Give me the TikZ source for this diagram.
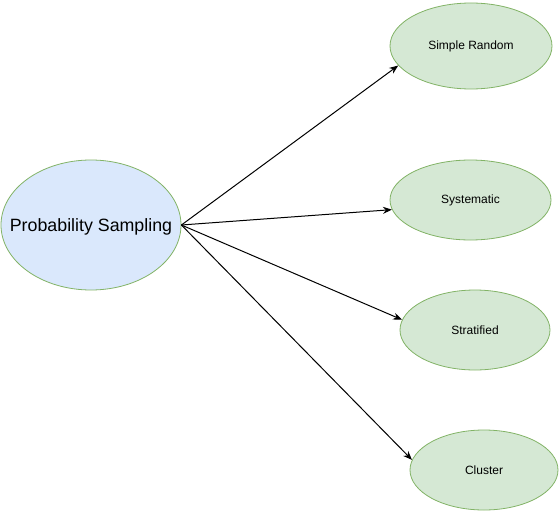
\documentclass[tikz,border=0pt]{standalone}
\usepackage{fontspec}
\setmainfont{Liberation Sans}
\usetikzlibrary{shapes.geometric,arrows.meta}
\definecolor{bluefill}{HTML}{DAE8FC}
\definecolor{greenfill}{HTML}{D5E8D4}
\definecolor{greenline}{HTML}{82B366}
\tikzset{
  oval/.style={ellipse, draw=greenline, line width=0.8pt, inner sep=0pt, text=black},
  mainoval/.style={oval, fill=bluefill},
  maintext/.style={inner sep=0pt, text=black, font=\fontsize{17.8}{20}\selectfont},
  suboval/.style={oval, fill=greenfill, font=\fontsize{12}{14}\selectfont},
  link/.style={draw=black, line width=1pt, -{Stealth[length=9pt,width=7pt]}}
}
\begin{document}
\begin{tikzpicture}[x=1pt,y=-1pt]
\useasboundingbox (0,0) rectangle (559,511);
\node[mainoval, minimum width=180pt, minimum height=130pt] (ps) at (91,225) {};
\node[maintext] (pslabel) at ([yshift=-2pt]ps.center) {Probability Sampling};
\node[suboval, minimum width=162pt, minimum height=86pt] (sr) at (471,46) {Simple Random};
\node[suboval, minimum width=161pt, minimum height=80pt] (sy) at (470.5,200) {Systematic};
\node[suboval, minimum width=150pt, minimum height=80pt] (st) at (475,330) {Stratified};
\node[suboval, minimum width=148pt, minimum height=80pt] (cl) at (484,470) {Cluster};
\draw[link] (ps.east) -- (sr.195);
\draw[link] (ps.east) -- (sy.187);
\draw[link] (ps.east) -- (st.172);
\draw[link] (ps.east) -- (cl.172);
\end{tikzpicture}
\end{document}
